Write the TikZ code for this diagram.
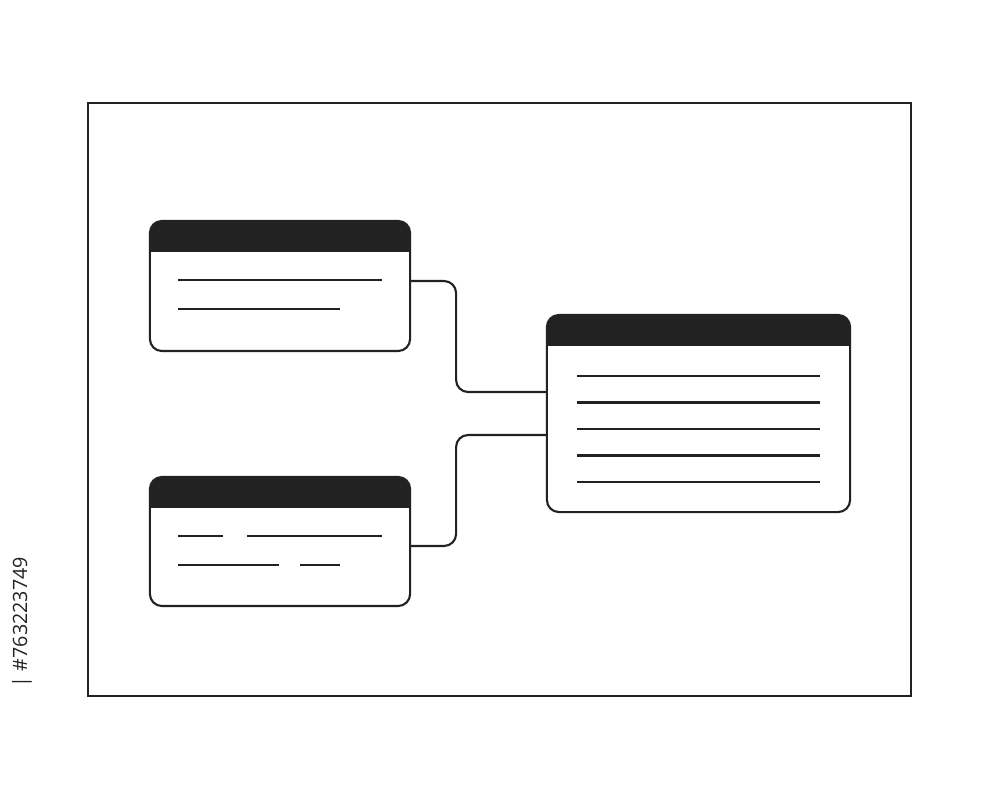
\documentclass[tikz,border=0pt]{standalone}
\usepackage{fontspec}
\setsansfont{Open Sans}
\usetikzlibrary{calc}
\definecolor{ink}{HTML}{222222}
\tikzset{
  card/.style 2 args={draw=ink, line width=0.6pt, rounded corners=0.12cm, fill=white,
    minimum width=#1, minimum height=#2, inner sep=0pt, outer sep=0pt},
  header/.style={path picture={\fill[ink, sharp corners] (path picture bounding box.north west) rectangle ([yshift=-#1]path picture bounding box.north east);}},
  txtline/.style={draw=ink, line width=0.7pt},
  link/.style={draw=ink, line width=0.6pt, rounded corners=0.12cm},
  frame/.style={draw=ink, line width=0.6pt}
}
\begin{document}
\begin{tikzpicture}[x=0.01cm,y=-0.01cm]
\useasboundingbox (0,0) rectangle (1000,800);
% frame
\node[frame, minimum width=8.23cm, minimum height=5.93cm, inner sep=0pt] (frame) at (499.5,399.5) {};
% cards
\node[card={2.60cm}{1.30cm}, header=0.31cm] (c1) at (280,286) {};
\node[card={2.60cm}{1.29cm}, header=0.31cm] (c2) at (280,541.5) {};
\node[card={3.03cm}{1.97cm}, header=0.31cm] (c3) at (698.5,413.5) {};
% text lines card 1
\draw[txtline] (178,280) -- (382,280);
\draw[txtline] (178,309) -- (340,309);
% text lines card 2
\draw[txtline] (178,536) -- (223,536);
\draw[txtline] (247,536) -- (382,536);
\draw[txtline] (178,565) -- (279,565);
\draw[txtline] (300,565) -- (340,565);
% text lines card 3
\foreach \y in {376,402.5,429,455.5,482}
  \draw[txtline] (577,\y) -- (820,\y);
% connectors
\coordinate (j1) at ($(c3.west)+(0,-21.5)$);
\coordinate (j2) at ($(c3.west)+(0,21.5)$);
\draw[link] ($(c1.east)+(0,-5)$) -- ++(46,0) |- (j1);
\draw[link] ($(c2.east)+(0,4.5)$) -- ++(46,0) |- (j2);
% id label
\node[rotate=90, text=ink, font=\sffamily\fontsize{5.6}{6}\selectfont, inner sep=0pt] (id) at (22,622) {\textbar\ \#763223749};
\end{tikzpicture}
\end{document}
